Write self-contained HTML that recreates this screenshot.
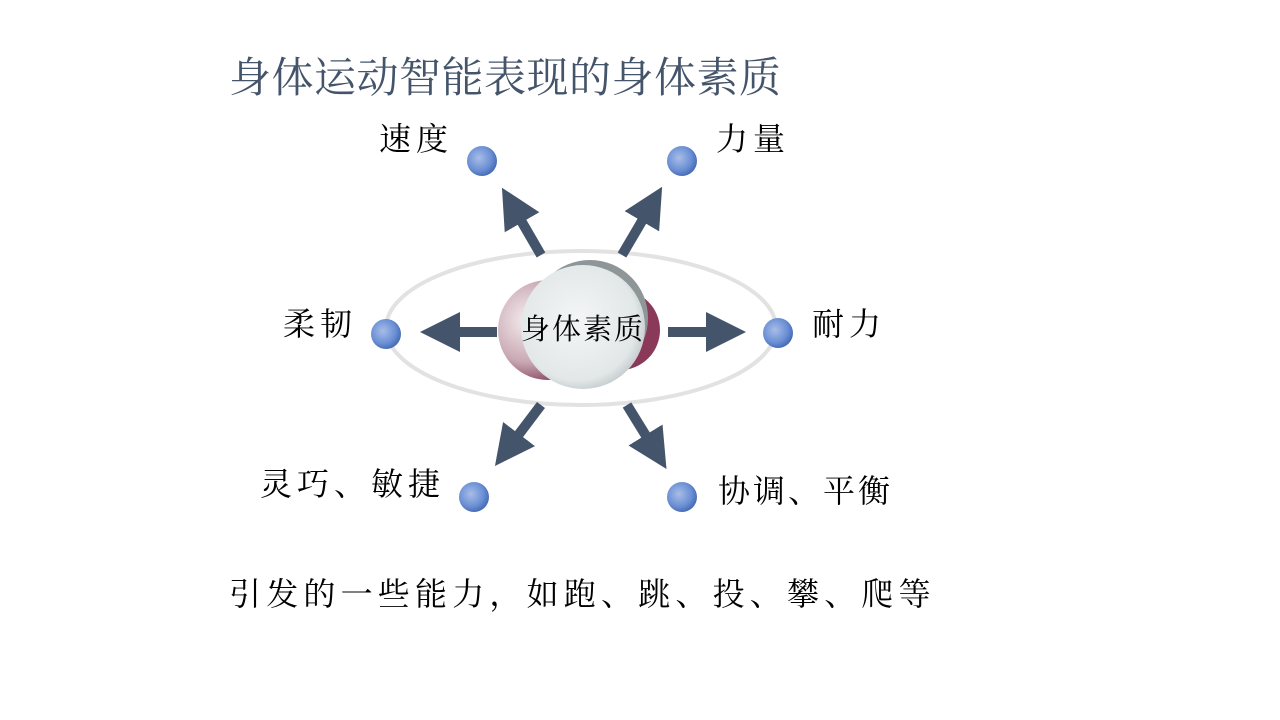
<!DOCTYPE html>
<html><head><meta charset="utf-8"><style>
body{margin:0;width:1280px;height:720px;background:#fff;overflow:hidden;position:relative;font-family:"Liberation Serif","Noto Serif CJK SC",serif;}
.t{position:absolute;white-space:nowrap;line-height:1;}
</style></head><body>
<svg width="1280" height="720" style="position:absolute;left:0;top:0">
<defs>
<radialGradient id="ball" cx="40%" cy="40%" r="60%"><stop offset="0" stop-color="#a8bde8"/><stop offset="0.7" stop-color="#6a8fd4"/><stop offset="1" stop-color="#4a6fb8"/></radialGradient>
<radialGradient id="cc" cx="45%" cy="45%" r="60%"><stop offset="0" stop-color="#f4f6f6"/><stop offset="0.8" stop-color="#e2e7e8"/><stop offset="1" stop-color="#bfc6c8"/></radialGradient>
<radialGradient id="mr" cx="30%" cy="40%" r="70%"><stop offset="0" stop-color="#f5eef0"/><stop offset="0.6" stop-color="#c9a9b3"/><stop offset="1" stop-color="#7a3450"/></radialGradient>
<marker id="ah" markerWidth="4" markerHeight="4" refX="2" refY="2" orient="auto" markerUnits="strokeWidth"><path d="M0,0 L4,2 L0,4 Z" fill="#44546a"/></marker>
</defs>
<ellipse cx="581" cy="328" rx="195" ry="77" fill="none" stroke="#e2e2e2" stroke-width="4"/>
<g stroke="#44546a" stroke-width="10" marker-end="url(#ah)">
<line x1="541" y1="255" x2="512" y2="205"/>
<line x1="622" y1="255" x2="652" y2="204"/>
<line x1="497" y1="332" x2="440" y2="332"/>
<line x1="668" y1="332" x2="726" y2="332"/>
<line x1="541" y1="405" x2="507" y2="450"/>
<line x1="627" y1="405" x2="656" y2="452"/>
</g>
<circle cx="620" cy="330" r="40" fill="#8a3a58"/>
<circle cx="548" cy="330" r="50" fill="url(#mr)"/>
<circle cx="590" cy="318" r="58" fill="#8e9698"/>
<circle cx="583" cy="327" r="62" fill="url(#cc)"/>
<circle cx="482" cy="161" r="15" fill="url(#ball)"/>
<circle cx="682" cy="161" r="15" fill="url(#ball)"/>
<circle cx="386" cy="334" r="15" fill="url(#ball)"/>
<circle cx="778" cy="333" r="15" fill="url(#ball)"/>
<circle cx="474" cy="497" r="15" fill="url(#ball)"/>
<circle cx="682" cy="497" r="15" fill="url(#ball)"/>
</svg>
<div class="t" style="left:229px;top:58px;font-size:42px;letter-spacing:0.5px;color:#44546a">身体运动智能表现的身体素质</div>
<div class="t" style="left:379px;top:123px;font-size:32px;letter-spacing:5px">速度</div>
<div class="t" style="left:716px;top:123px;font-size:32px;letter-spacing:5px">力量</div>
<div class="t" style="left:283px;top:308px;font-size:32px;letter-spacing:5px">柔韧</div>
<div class="t" style="left:812px;top:308px;font-size:32px;letter-spacing:5px">耐力</div>
<div class="t" style="left:260px;top:468px;font-size:32px;letter-spacing:5px">灵巧、敏捷</div>
<div class="t" style="left:718px;top:475px;font-size:32px;letter-spacing:3px">协调、平衡</div>
<div class="t" style="left:521px;top:316px;font-size:29px;letter-spacing:2px">身体素质</div>
<div class="t" style="left:229px;top:578px;font-size:32px;letter-spacing:5.2px">引发的一些能力，如跑、跳、投、攀、爬等</div>
</body></html>
